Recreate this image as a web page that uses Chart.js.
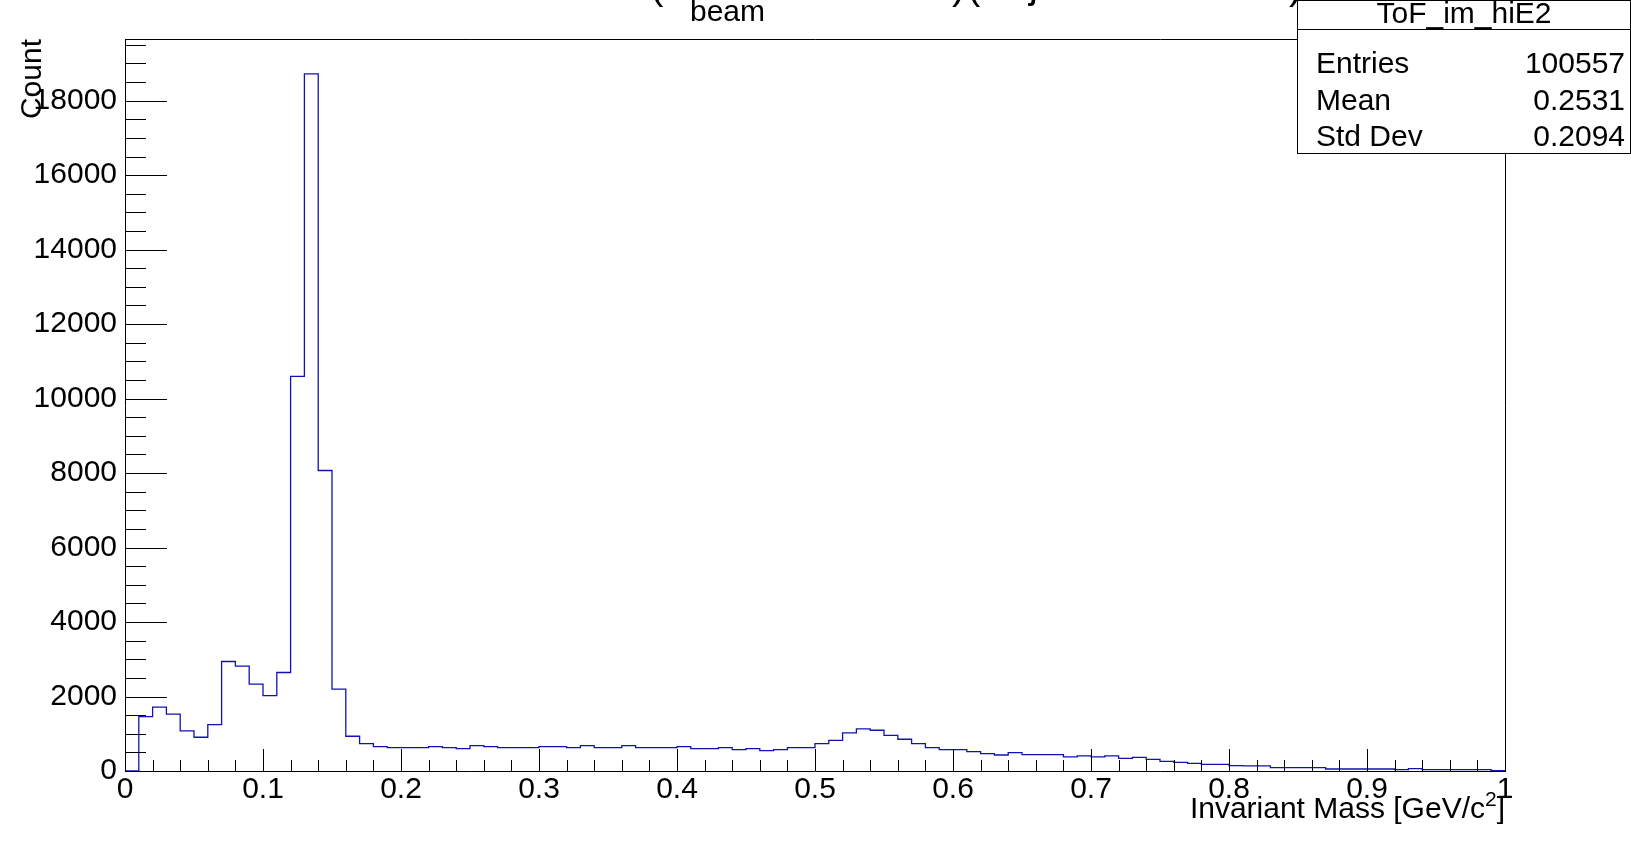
<!DOCTYPE html>
<html>
<head>
<meta charset="utf-8">
<script src="https://cdn.jsdelivr.net/npm/chart.js@4.4.1/dist/chart.umd.min.js"></script>
<style>
    html, body { margin: 0; padding: 0; background: #fff; }
    #wrap { width: 1631px; height: 842px; position: relative; }
</style>
</head>
<body>
<div id="wrap"><canvas id="hist" width="1631" height="842"></canvas></div>
<script>
// histogram binning (100 bins of 0.01 GeV/c^2)
const xMin = 0;
const xMax = 1;
const counts = [
    0, 1460, 1713, 1525, 1076, 906, 1246, 2940, 2815, 2331,
    2026, 2645, 10597, 18720, 8069, 2197, 933, 735, 654, 627,
    627, 627, 654, 627, 600, 680, 654, 627, 627, 627,
    654, 654, 627, 680, 627, 627, 680, 627, 627, 627,
    654, 600, 600, 627, 573, 600, 546, 573, 627, 627,
    735, 825, 1022, 1130, 1094, 959, 852, 735, 627, 573,
    573, 520, 466, 430, 493, 439, 439, 439, 377, 404,
    377, 404, 341, 368, 314, 260, 233, 206, 180, 180,
    144, 135, 135, 90, 90, 90, 90, 54, 54, 54,
    54, 54, 36, 63, 36, 36, 36, 36, 36, 10
];
const xTickLabels = [0, 0.1, 0.2, 0.3, 0.4, 0.5, 0.6, 0.7, 0.8, 0.9, 1];
const yTickLabels = [0, 2000, 4000, 6000, 8000, 10000, 12000, 14000, 16000, 18000];
const xMinorStep = 0.02;
const yMinorStep = 500;

const statsTitle = 'ToF_im_hiE2';
const statsNames = ['Entries', 'Mean', 'Std Dev'];
const statsValues = ['100557', '0.2531', '0.2094'];

const FONT = '"Liberation Sans", Arial, Helvetica, sans-serif';

// step outline: one point per bin low edge, then close at xMax
const binWidth = (xMax - xMin) / counts.length;
const points = counts.map((c, i) => ({ x: xMin + i * binWidth, y: c }));
points.push({ x: xMax, y: counts[counts.length - 1] });
points.push({ x: xMax, y: 0 });

const yTop = Math.max(...counts) * 1.05;

const rootDecor = {
    id: 'rootDecor',
    afterDraw(chart) {
        const ctx = chart.ctx;
        const a = chart.chartArea;
        const xs = chart.scales.x;
        const ys = chart.scales.y;
        ctx.save();
        ctx.strokeStyle = '#000';
        ctx.lineWidth = 1;

        // x ticks (inside)
        ctx.beginPath();
        const nx = Math.round((xMax - xMin) / xMinorStep);
        for (let i = 0; i <= nx; i++) {
            const v = xMin + i * xMinorStep;
            const px = Math.round(xs.getPixelForValue(v)) + 0.5;
            const major = i % 5 === 0;
            ctx.moveTo(px, a.bottom);
            ctx.lineTo(px, a.bottom - (major ? 22 : 11));
        }
        // y ticks (inside)
        for (let v = 0; v <= yTop; v += yMinorStep) {
            const py = Math.round(ys.getPixelForValue(v)) + 0.5;
            const major = v % 2000 === 0;
            ctx.moveTo(a.left, py);
            ctx.lineTo(a.left + (major ? 42 : 21), py);
        }
        // top and right frame
        ctx.moveTo(a.left, Math.round(a.top) + 0.5);
        ctx.lineTo(Math.round(a.right) + 0.5, Math.round(a.top) + 0.5);
        ctx.lineTo(Math.round(a.right) + 0.5, a.bottom);
        ctx.stroke();

        ctx.fillStyle = '#000';

        // x title with superscript
        ctx.font = '30px ' + FONT;
        ctx.textBaseline = 'alphabetic';
        ctx.textAlign = 'left';
        const t1 = 'Invariant Mass [GeV/c';
        const t3 = ']';
        const w1 = ctx.measureText(t1).width;
        const w3 = ctx.measureText(t3).width;
        ctx.font = '21px ' + FONT;
        const w2 = ctx.measureText('2').width;
        const x0 = a.right - (w1 + w2 + w3);
        ctx.font = '30px ' + FONT;
        ctx.fillText(t1, x0, 818);
        ctx.fillText(t3, x0 + w1 + w2, 818);
        ctx.font = '21px ' + FONT;
        ctx.fillText('2', x0 + w1, 806);

        // y title
        ctx.save();
        ctx.font = '30px ' + FONT;
        ctx.translate(41, a.top);
        ctx.rotate(-Math.PI / 2);
        ctx.textAlign = 'right';
        ctx.fillText('Count', 0, 0);
        ctx.restore();

        // title fragments (the title line sits above the canvas)
        ctx.font = '40px ' + FONT;
        ctx.textAlign = 'left';
        ctx.fillText('(', 650, -1);
        ctx.fillText(')', 952, -1);
        ctx.fillText('(', 967, -1);
        ctx.fillText('j', 1029, -2);
        ctx.fillText(')', 1289, -1);
        ctx.font = '30px ' + FONT;
        ctx.fillText('beam', 690, 21);

        // stats box
        const bx = 1297.5, by = 0.5, bw = 333, bh = 153;
        ctx.fillStyle = '#fff';
        ctx.fillRect(bx, by, bw, bh);
        ctx.strokeRect(bx, by, bw, bh);
        ctx.beginPath();
        ctx.moveTo(bx, 29.5);
        ctx.lineTo(bx + bw, 29.5);
        ctx.stroke();
        ctx.fillStyle = '#000';
        ctx.font = '30px ' + FONT;
        ctx.textBaseline = 'middle';
        ctx.textAlign = 'center';
        ctx.fillText(statsTitle, bx + bw / 2, 15);
        const rowY = [65, 102, 138];
        statsNames.forEach((name, i) => {
            ctx.textAlign = 'left';
            ctx.fillText(name, 1316, rowY[i]);
            ctx.textAlign = 'right';
            ctx.fillText(statsValues[i], 1625, rowY[i]);
        });
        ctx.restore();
    }
};

const ctx = document.getElementById('hist').getContext('2d');
new Chart(ctx, {
    type: 'line',
    data: {
        datasets: [{
            label: statsTitle,
            data: points,
            stepped: true,
            borderColor: '#1212b4',
            borderWidth: 1.3,
            pointRadius: 0,
            fill: false,
            tension: 0
        }]
    },
    options: {
        responsive: false,
        animation: false,
        devicePixelRatio: 1,
        layout: { padding: { left: 0, right: 126, top: 39, bottom: 0 } },
        plugins: {
            legend: { display: false },
            tooltip: { enabled: false },
            title: { display: false }
        },
        scales: {
            x: {
                type: 'linear',
                min: xMin,
                max: xMax,
                afterBuildTicks: (s) => { s.ticks = xTickLabels.map(v => ({ value: v })); },
                afterFit: (s) => { s.height = 71; },
                grid: { display: false, drawTicks: false },
                border: { display: true, color: '#000', width: 1 },
                ticks: {
                    color: '#000',
                    font: { family: FONT, size: 30 },
                    padding: 1,
                    maxRotation: 0,
                    autoSkip: false,
                    callback: (v) => String(Math.round(v * 10) / 10)
                }
            },
            y: {
                type: 'linear',
                min: 0,
                max: yTop,
                afterBuildTicks: (s) => { s.ticks = yTickLabels.map(v => ({ value: v })); },
                afterFit: (s) => { s.width = 125; },
                grid: { display: false, drawTicks: false },
                border: { display: true, color: '#000', width: 1 },
                ticks: {
                    color: '#000',
                    font: { family: FONT, size: 30 },
                    padding: 8,
                    autoSkip: false,
                    callback: (v) => String(v)
                }
            }
        }
    },
    plugins: [rootDecor]
});
</script>
</body>
</html>
